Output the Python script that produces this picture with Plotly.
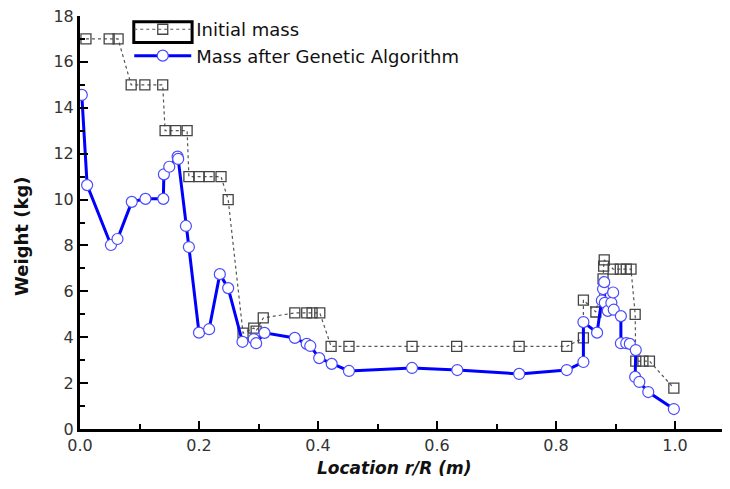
import plotly.graph_objects as go

# Initial mass (squares)
init_x = [0.01, 0.049, 0.064, 0.086, 0.109, 0.139, 0.143, 0.161, 0.18,
          0.183, 0.2, 0.217, 0.237, 0.249, 0.274, 0.292, 0.296, 0.308,
          0.361, 0.381, 0.39, 0.403, 0.422, 0.452, 0.558, 0.633, 0.738,
          0.818, 0.846, 0.846, 0.867, 0.879, 0.880, 0.881, 0.896, 0.908,
          0.918, 0.926, 0.933, 0.934, 0.946, 0.957, 0.998]
init_y = [17, 17, 17, 15, 15, 15, 13, 13, 13,
          11, 11, 11, 11, 10, 4.18, 4.4, 4.27, 4.84,
          5.06, 5.06, 5.06, 5.06, 3.6, 3.6, 3.6, 3.6, 3.6,
          3.6, 3.97, 5.62, 5.1, 6.54, 7.1, 7.37, 6.97, 6.97,
          6.97, 6.97, 5.0, 2.96, 2.96, 2.96, 1.78]

# Mass after Genetic Algorithm (circles)
ga_x = [0.003, 0.012, 0.052, 0.063, 0.087, 0.110, 0.140, 0.141, 0.150,
        0.164, 0.165, 0.178, 0.183, 0.200, 0.217, 0.235, 0.249, 0.273,
        0.292, 0.296, 0.310, 0.361, 0.381, 0.387, 0.402, 0.423, 0.452,
        0.558, 0.634, 0.738, 0.818, 0.846, 0.846, 0.869, 0.877, 0.879,
        0.881, 0.882, 0.887, 0.893, 0.896, 0.897, 0.909, 0.909, 0.918,
        0.924, 0.934, 0.933, 0.940, 0.955, 0.998]
ga_y = [14.56, 10.63, 8.02, 8.28, 9.9, 10.03, 10.03, 11.1, 11.43,
        11.87, 11.77, 8.85, 7.93, 4.2, 4.35, 6.75, 6.14, 3.8,
        3.92, 3.74, 4.19, 3.97, 3.71, 3.62, 3.09, 2.84, 2.53,
        2.66, 2.57, 2.4, 2.57, 2.92, 4.66, 4.2, 5.6, 6.1,
        6.4, 5.5, 5.15, 5.5, 5.95, 5.2, 4.92, 3.74, 3.74,
        3.71, 3.44, 2.27, 2.05, 1.61, 0.87]

x_ticks = [0.0, 0.2, 0.4, 0.6, 0.8, 1.0]
y_ticks = [0, 2, 4, 6, 8, 10, 12, 14, 16, 18]

FONT = "DejaVu Sans"

fig = go.Figure()
fig.add_trace(go.Scatter(
    x=init_x, y=init_y, mode="lines+markers", name="Initial mass",
    line=dict(color="#555555", width=1.2, dash="dot"),
    marker=dict(symbol="square-open", size=10, color="#444444",
                line=dict(width=1.3, color="#444444")),
))
fig.add_trace(go.Scatter(
    x=ga_x, y=ga_y, mode="lines+markers", name="Mass after Genetic Algorithm",
    line=dict(color="#0000ff", width=3),
    marker=dict(symbol="circle", size=11, color="white",
                line=dict(width=1.2, color="#4a4aff")),
))

axis_font = dict(family=FONT, size=16, color="#333333")
fig.update_layout(
    width=722, height=481,
    margin=dict(l=72, r=2, t=8, b=60),
    paper_bgcolor="white", plot_bgcolor="white",
    showlegend=True,
    legend=dict(x=0.076, y=1.012, xanchor="left", yanchor="top",
                bgcolor="rgba(0,0,0,0)", itemwidth=57,
                font=dict(family=FONT, size=18, color="#111111"),
                tracegroupgap=0),
    xaxis=dict(range=[0, 1.089], tickvals=x_ticks, tickformat=".1f",
               showgrid=False, zeroline=False, showline=True, automargin=False,
               linecolor="black", linewidth=3, ticks="inside",
               ticklen=8, tickwidth=2, tickcolor="black",
               ticklabeloverflow="allow",
               minor=dict(dtick=0.1, ticks="inside", ticklen=5, tickwidth=2,
                          tickcolor="black", showgrid=False),
               tickfont=axis_font),
    yaxis=dict(range=[0, 18], tickvals=y_ticks,
               showgrid=False, zeroline=False, showline=True, automargin=False,
               linecolor="black", linewidth=3, ticks="inside",
               ticklen=8, tickwidth=2, tickcolor="black",
               ticklabeloverflow="allow",
               minor=dict(dtick=1, ticks="inside", ticklen=5, tickwidth=2,
                          tickcolor="black", showgrid=False),
               tickfont=axis_font),
)
fig.add_annotation(text="<b>Weight (kg)</b>", xref="paper", yref="paper",
                   x=-0.0895, y=0.465, textangle=-90, showarrow=False,
                   xanchor="center", yanchor="middle",
                   font=dict(family=FONT, size=18, color="#111111"))
fig.add_annotation(text="<b><i>Location r/R (m)</i></b>", xref="paper", yref="paper",
                   x=0.486, y=-0.094, showarrow=False,
                   xanchor="center", yanchor="middle",
                   font=dict(family=FONT, size=17, color="#111111"))
fig.add_shape(type="rect", xref="paper", yref="paper",
              x0=0.083, x1=0.173, y0=0.936, y1=0.986,
              line=dict(color="black", width=3))
fig.write_html("out.html")
